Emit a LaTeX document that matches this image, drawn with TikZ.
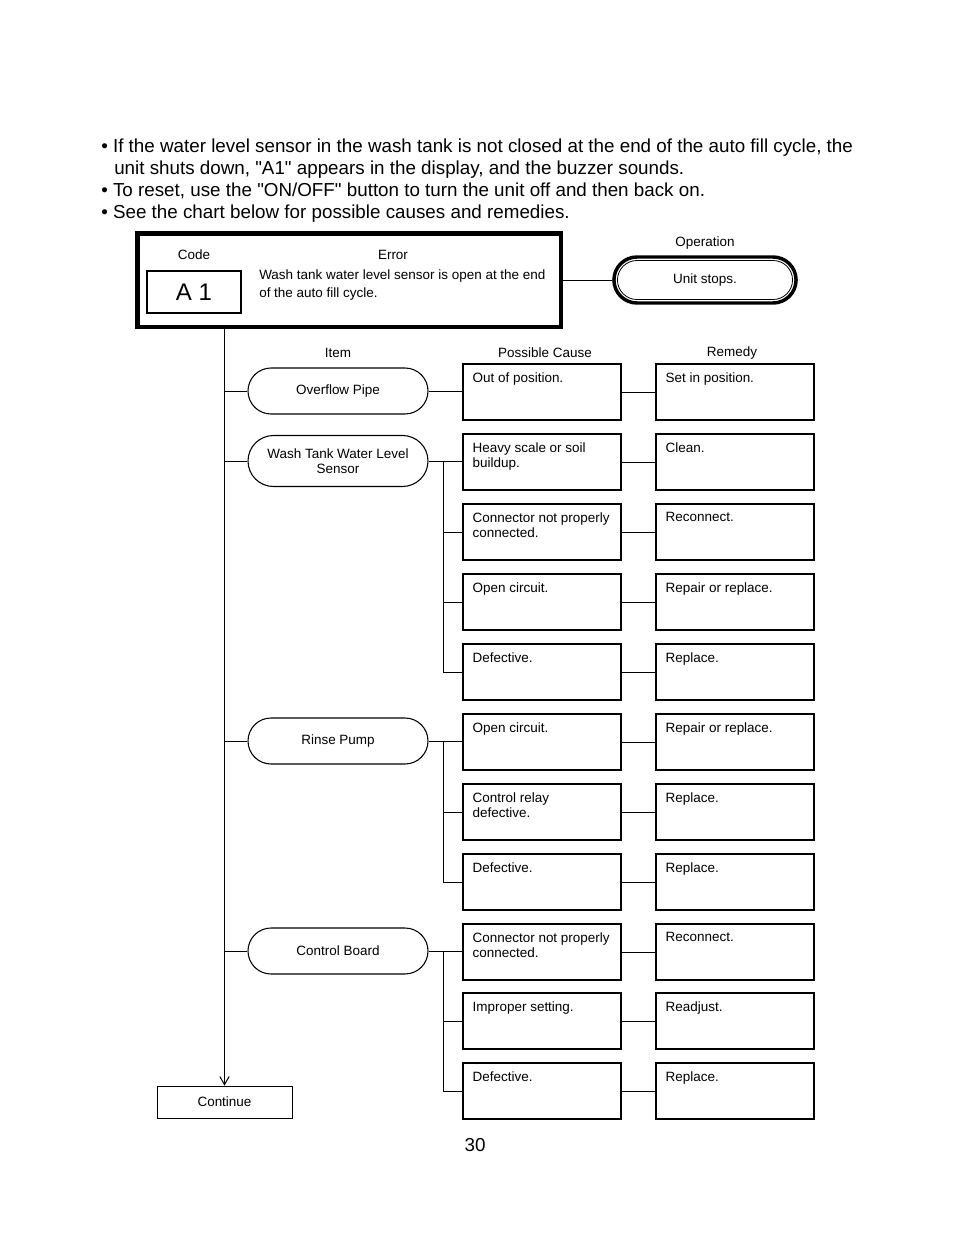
\documentclass[tikz,border=0pt]{standalone}
\usepackage{fontspec}
\setmainfont{Liberation Sans}
\usetikzlibrary{shapes.misc, arrows.meta, calc}
\tikzset{
  small/.style={font=\fontsize{10.1}{11.25}\selectfont},
  big/.style={font=\fontsize{14.1}{16.5}\selectfont, inner sep=0pt},
  box/.style={draw, line width=0.9pt, minimum width=118.5pt, minimum height=42pt, inner sep=0pt},
  boxtext/.style={small, anchor=north west, align=left, inner sep=0pt, xshift=7.5pt, yshift=-6.5pt},
  cause/.style={box, label={[boxtext]north west:#1}},
  item/.style={draw, rounded rectangle, line width=0.8pt, minimum width=135pt, minimum height=34.5pt, small, align=center, inner sep=0pt},
  link/.style={line width=0.75pt},
}
\begin{document}
\begin{tikzpicture}[x=0.75pt, y=-0.75pt]
\useasboundingbox (0,0) rectangle (954,1235);
% instructions
\node[big, anchor=base west] (l1) at (101,152) {\textbullet\ If the water level sensor in the wash tank is not closed at the end of the auto fill cycle, the};
\node[big, anchor=base west] (l2) at (114,174) {unit shuts down, \textquotedbl A1\textquotedbl\ appears in the display, and the buzzer sounds.};
\node[big, anchor=base west] (l3) at (101,196) {\textbullet\ To reset, use the \textquotedbl ON/OFF\textquotedbl\ button to turn the unit off and then back on.};
\node[big, anchor=base west] (l4) at (101,218) {\textbullet\ See the chart below for possible causes and remedies.};
% error code box
\node[draw, line width=3pt, minimum width=318pt, minimum height=70.5pt] (err) at (349,280) {};
\draw[line width=0.6pt] ($(err.north west)+(4,4)$) rectangle ($(err.south east)+(-4,-4)$);
\node[small] (code) at (194,255) {Code};
\node[small] (errhead) at (393,255) {Error};
\node[draw, line width=1.1pt, minimum width=70.5pt, minimum height=31.5pt, font=\fontsize{18}{20}\selectfont] (a1) at (194,292) {A 1};
\node[anchor=north west, align=left, inner sep=0pt, font=\fontsize{10.1}{13.5}\selectfont] (errtext) at (259,269) {Wash tank water level sensor is open at the end\\of the auto fill cycle.};
% operation
\node[small] (ophead) at (705,243) {Operation};
\node[draw, rounded rectangle, line width=2.6pt, minimum width=143.25pt, minimum height=34.5pt] (op) at (705,280) {};
\node[draw, rounded rectangle, line width=0.6pt, minimum width=138pt, minimum height=29.25pt, small] (opin) at (op.center) {Unit stops.};
\draw[link] (err.east) -- (op.west);
% headings
\node[small] (hitem) at (338,353) {Item};
\node[small] (hcause) at (545,353) {Possible Cause};
\node[small] (hremedy) at (732,353) {Remedy};
% items
\node[item] (over) at (338,391) {Overflow Pipe};
\node[item, minimum height=38.25pt] (wash) at (338,461) {Wash Tank Water Level\\Sensor};
\node[item] (rinse) at (338,741) {Rinse Pump};
\node[item] (board) at (338,951) {Control Board};
% possible causes
\node[cause={Out of position.}] (c1) at (542,392) {};
\node[cause={Heavy scale or soil\\buildup.}] (c2) at (542,462) {};
\node[cause={Connector not properly\\connected.}] (c3) at (542,532) {};
\node[cause={Open circuit.}] (c4) at (542,602) {};
\node[cause={Defective.}] (c5) at (542,672) {};
\node[cause={Open circuit.}] (c6) at (542,742) {};
\node[cause={Control relay\\defective.}] (c7) at (542,812) {};
\node[cause={Defective.}] (c8) at (542,882) {};
\node[cause={Connector not properly\\connected.}] (c9) at (542,952) {};
\node[cause={Improper setting.}] (c10) at (542,1021) {};
\node[cause={Defective.}] (c11) at (542,1091) {};
% remedies
\node[cause={Set in position.}] (r1) at (735,392) {};
\node[cause={Clean.}] (r2) at (735,462) {};
\node[cause={Reconnect.}] (r3) at (735,532) {};
\node[cause={Repair or replace.}] (r4) at (735,602) {};
\node[cause={Replace.}] (r5) at (735,672) {};
\node[cause={Repair or replace.}] (r6) at (735,742) {};
\node[cause={Replace.}] (r7) at (735,812) {};
\node[cause={Replace.}] (r8) at (735,882) {};
\node[cause={Reconnect.}] (r9) at (735,952) {};
\node[cause={Readjust.}] (r10) at (735,1021) {};
\node[cause={Replace.}] (r11) at (735,1091) {};
% continue
\node[draw, line width=0.7pt, minimum width=101.25pt, minimum height=24pt, small] (cont) at (224.5,1102) {Continue};
% trunk and branches
\draw[link, -{Straight Barb[length=6pt, width=7pt]}] (err.south -| cont.north) -- (cont.north);
\draw[link] (over.west -| cont.north) -- (over.west);
\draw[link] (wash.west -| cont.north) -- (wash.west);
\draw[link] (rinse.west -| cont.north) -- (rinse.west);
\draw[link] (board.west -| cont.north) -- (board.west);
% items to causes
\draw[link] (over.east) -- (over.east -| c1.west);
\coordinate (wj) at ($(wash.east)!0.43!(c2.west)$);
\draw[link] (wash.east) -- (wash.east -| c2.west);
\draw[link] (wj) |- (c3.west);
\draw[link] (wj) |- (c4.west);
\draw[link] (wj) |- (c5.west);
\coordinate (rj) at ($(rinse.east)!0.43!(c6.west)$);
\draw[link] (rinse.east) -- (rinse.east -| c6.west);
\draw[link] (rj) |- (c7.west);
\draw[link] (rj) |- (c8.west);
\coordinate (bj) at ($(board.east)!0.43!(c9.west)$);
\draw[link] (board.east) -- (board.east -| c9.west);
\draw[link] (bj) |- (c10.west);
\draw[link] (bj) |- (c11.west);
% causes to remedies
\draw[link] (c1.east) -- (r1.west);
\draw[link] (c2.east) -- (r2.west);
\draw[link] (c3.east) -- (r3.west);
\draw[link] (c4.east) -- (r4.west);
\draw[link] (c5.east) -- (r5.west);
\draw[link] (c6.east) -- (r6.west);
\draw[link] (c7.east) -- (r7.west);
\draw[link] (c8.east) -- (r8.west);
\draw[link] (c9.east) -- (r9.west);
\draw[link] (c10.east) -- (r10.west);
\draw[link] (c11.east) -- (r11.west);
% page number
\node[big] (page) at (475,1145) {30};
\end{tikzpicture}
\end{document}
